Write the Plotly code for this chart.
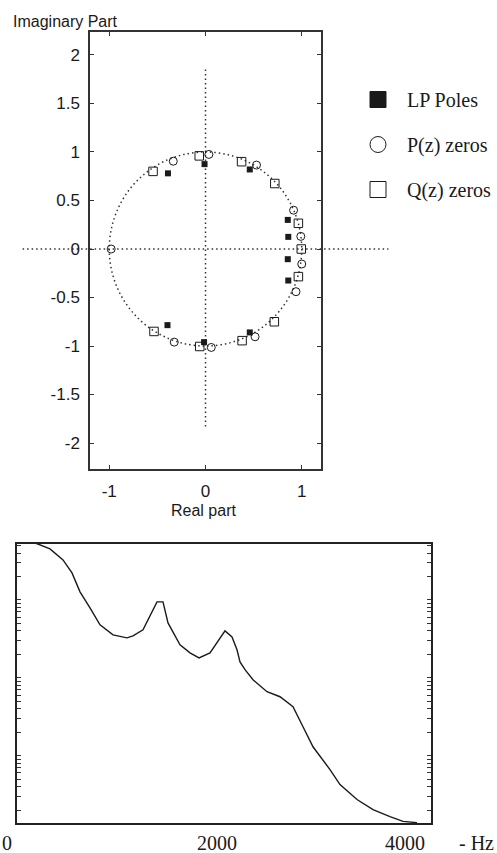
import plotly.graph_objects as go

# ---------------- data ----------------
# LP poles (filled squares)
lp_re = [-0.39, -0.01, 0.46, 0.855, 0.86, 0.855, 0.86, 0.46, -0.015, -0.395]
lp_im = [0.78, 0.875, 0.82, 0.30, 0.125, -0.105, -0.325, -0.86, -0.96, -0.785]
# P(z) zeros (open circles)
p_re = [-0.98, -0.335, 0.035, 0.53, 0.915, 0.99, 1.0, 0.94, 0.515, 0.06, -0.325]
p_im = [0.0, 0.905, 0.975, 0.865, 0.40, 0.13, -0.155, -0.44, -0.905, -1.015, -0.96]
# Q(z) zeros (open squares)
q_re = [-0.545, -0.065, 0.375, 0.72, 0.965, 0.995, 0.965, 0.715, 0.38, -0.06, -0.535]
q_im = [0.80, 0.96, 0.90, 0.675, 0.265, 0.0, -0.285, -0.75, -0.945, -1.005, -0.85]

legend_names = ["LP Poles", "P(z) zeros", "Q(z) zeros"]

re_ticks = [-1, 0, 1]
re_ticktext = ["-1", "0", "1"]
im_ticks = [2, 1.5, 1, 0.5, 0, -0.5, -1, -1.5, -2]
im_ticktext = ["2", "1.5", "1", "0.5", "0", "-0.5", "-1", "-1.5", "-2"]

# spectrum envelope (log magnitude) vs frequency
freq_hz = [0, 210, 330, 460, 550, 630, 730, 830, 960, 1100, 1160, 1260, 1400, 1460,
           1510, 1630, 1730, 1820, 1930, 2000, 2080, 2150, 2200, 2230, 2280, 2360,
           2500, 2630, 2760, 2860, 2960, 3130, 3230, 3400, 3560, 3730, 3860, 4000]
mag = [624, 522, 451, 326, 222, 127, 78.9, 47.8, 35.6, 32.6, 34.6, 41.3, 94.3, 94.3,
       50.7, 26.5, 20.9, 18.0, 20.9, 28.1, 40.0, 33.5, 22.9, 16.0, 12.7, 9.43,
       6.62, 5.71, 4.25, 2.35, 1.30, 0.662, 0.425, 0.273, 0.203, 0.165, 0.143, 0.138]

freq_ticks = [0, 2000, 4000]
freq_ticktext = ["0", "2000", "4000"]

# ---------------- layout constants ----------------
W, H = 497, 853
top_xdom = [90 / W, 321 / W]
top_ydom = [1 - 469 / H, 1 - 32 / H]
bot_xdom = [17 / W, 431 / W]
bot_ydom = [1 - 823 / H, 1 - 544 / H]
top_xrange = [-1.2, 1.2]
top_yrange = [-2.268, 2.237]

INK = "#1a1a1a"
SANS = "Liberation Sans, Arial, sans-serif"
SERIF = "Liberation Serif, Times New Roman, serif"

fig = go.Figure()

fig.add_trace(go.Scatter(x=lp_re, y=lp_im, mode="markers", showlegend=False,
                         marker=dict(symbol="square", size=6, color=INK),
                         xaxis="x", yaxis="y"))
fig.add_trace(go.Scatter(x=p_re, y=p_im, mode="markers", showlegend=False,
                         marker=dict(symbol="circle-open", size=8, color=INK,
                                     line=dict(width=1, color=INK)),
                         xaxis="x", yaxis="y"))
fig.add_trace(go.Scatter(x=q_re, y=q_im, mode="markers", showlegend=False,
                         marker=dict(symbol="square-open", size=8.5, color=INK,
                                     line=dict(width=1, color=INK)),
                         xaxis="x", yaxis="y"))

# legend-only entries (larger symbols as in the original legend)
leg_symbols = ["square", "circle-open", "square-open"]
for i, (nm, sym) in enumerate(zip(legend_names, leg_symbols)):
    fig.add_trace(go.Scatter(x=[None], y=[None], mode="markers", name=nm,
                             legendgroup="g%d" % i,
                             marker=dict(symbol=sym, size=16, color=INK,
                                         line=dict(width=1, color=INK)),
                             xaxis="x", yaxis="y"))

fig.add_trace(go.Scatter(x=freq_hz, y=mag, mode="lines", showlegend=False,
                         line=dict(color=INK, width=1.4),
                         xaxis="x2", yaxis="y2"))


def xpaper(xv):
    return top_xdom[0] + (xv - top_xrange[0]) / (top_xrange[1] - top_xrange[0]) * (top_xdom[1] - top_xdom[0])


shapes = [
    dict(type="circle", xref="x", yref="y", x0=-1, y0=-1, x1=1, y1=1, layer="below",
         line=dict(color="#333", width=1.5, dash="1.5px,3px")),
    dict(type="line", xref="x", yref="y", x0=0, x1=0, y0=-1.83, y1=1.88, layer="below",
         line=dict(color="#333", width=1.5, dash="1.5px,3px")),
    dict(type="line", xref="paper", yref="y", x0=xpaper(-1.9), x1=xpaper(1.9), y0=0, y1=0,
         layer="below", line=dict(color="#333", width=1.5, dash="1.5px,3px")),
]

annotations = [
    dict(text="Imaginary Part", xref="paper", yref="paper", x=11 / W, y=1 - 21 / H,
         xanchor="left", yanchor="middle", showarrow=False,
         font=dict(family=SANS, size=16, color=INK)),
    dict(text="Real part", xref="paper", yref="paper", x=203 / W, y=1 - 510 / H,
         xanchor="center", yanchor="middle", showarrow=False,
         font=dict(family=SANS, size=16, color=INK)),
    dict(text="- Hz", xref="paper", yref="paper", x=495 / W, y=1 - 843 / H,
         xanchor="right", yanchor="middle", showarrow=False, borderpad=0,
         font=dict(family=SERIF, size=20, color=INK)),
]
freq_shift = [-10, 0, -12]
for fv, ft, sh in zip(freq_ticks, freq_ticktext, freq_shift):
    annotations.append(dict(text=ft, xref="x2", yref="paper", x=fv, y=1 - 843 / H,
                            xshift=sh, xanchor="center", yanchor="middle", showarrow=False,
                            font=dict(family=SERIF, size=20, color=INK)))

fig.update_layout(
    width=W, height=H,
    margin=dict(l=0, r=0, t=0, b=0),
    paper_bgcolor="white", plot_bgcolor="white",
    showlegend=True,
    legend=dict(x=349 / W, y=1 - 80 / H, xanchor="left", yanchor="top",
                bgcolor="rgba(0,0,0,0)", itemwidth=48, tracegroupgap=16,
                font=dict(family=SERIF, size=20, color=INK)),
    xaxis=dict(domain=top_xdom, anchor="y", range=top_xrange,
               tickvals=re_ticks, ticktext=re_ticktext,
               ticks="inside", ticklen=4, tickcolor="#333",
               showline=True, linecolor="#333", linewidth=1.5, mirror="ticks",
               showgrid=False, zeroline=False, ticklabelstandoff=6,
               tickfont=dict(family=SANS, size=17, color=INK)),
    yaxis=dict(domain=top_ydom, anchor="x", range=top_yrange,
               tickvals=im_ticks, ticktext=im_ticktext,
               ticks="inside", ticklen=4, tickcolor="#333",
               showline=True, linecolor="#333", linewidth=1.5, mirror="ticks",
               showgrid=False, zeroline=False, ticklabelstandoff=5,
               tickfont=dict(family=SANS, size=17, color=INK)),
    xaxis2=dict(domain=bot_xdom, anchor="y2", range=[0, 4140],
                showticklabels=False, ticks="",
                showline=True, linecolor="#222", linewidth=1.8, mirror=True,
                showgrid=False, zeroline=False),
    yaxis2=dict(domain=bot_ydom, anchor="x2", type="log", range=[-0.865, 2.718],
                dtick="D1", showticklabels=False,
                ticks="inside", ticklen=4, tickcolor="#333",
                showline=True, linecolor="#222", linewidth=1.8, mirror="ticks",
                showgrid=False, zeroline=False),
    shapes=shapes,
    annotations=annotations,
)

fig.write_html("out.html")
